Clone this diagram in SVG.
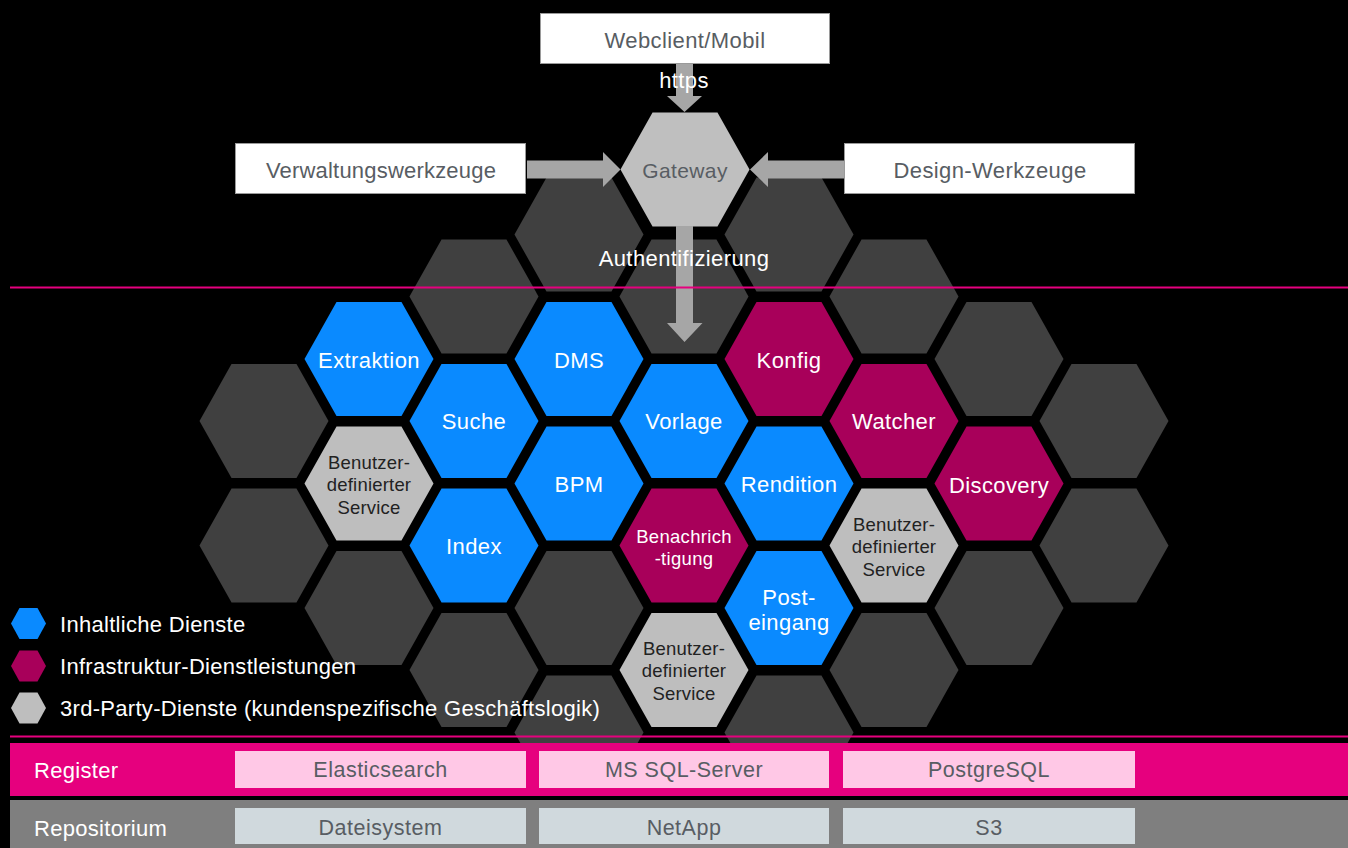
<svg xmlns="http://www.w3.org/2000/svg" width="1348" height="848" viewBox="0 0 1348 848">
<defs>
<polygon id="hx" points="-64.5,0 -32.5,-57 32.5,-57 64.5,0 32.5,57 -32.5,57"/>
<polygon id="lhx" points="-17.5,0 -9,-15.5 9,-15.5 17.5,0 9,15.5 -9,15.5"/>
</defs>
<style>
text{font-family:"Liberation Sans",Arial,sans-serif;dominant-baseline:central;text-anchor:middle}
.dk{fill:#404040}.bl{fill:#0A8AFF}.mg{fill:#A8005A}.gy{fill:#BEBEBE}
.w{fill:#FFFFFF;font-size:22px;letter-spacing:0.4px}.b3{fill:#222222;font-size:18.5px;letter-spacing:0.2px}
.box{fill:#FFFFFF;stroke:#9A9A9A;stroke-width:1}
.bt{fill:#585D63;font-size:22px;letter-spacing:0.4px}
.arr{fill:#A6A6A6}
.pl{stroke:#E6007E;stroke-width:2}
.lg{fill:#FFFFFF;font-size:22px;letter-spacing:0.3px;text-anchor:start}
.bx{fill:#585D63;font-size:21.5px;letter-spacing:0.5px}
.bl2{fill:#FFFFFF;font-size:22px;letter-spacing:0.3px;text-anchor:start}
</style>
<rect width="1348" height="848" fill="#000000"/>
<g id="background-hexes">
<use href="#hx" class="dk" x="264" y="421"/>
<use href="#hx" class="dk" x="264" y="545.5"/>
<use href="#hx" class="dk" x="369" y="608"/>
<use href="#hx" class="dk" x="474" y="296.5"/>
<use href="#hx" class="dk" x="474" y="670"/>
<use href="#hx" class="dk" x="579" y="234.5"/>
<use href="#hx" class="dk" x="579" y="608"/>
<use href="#hx" class="dk" x="579" y="732.5"/>
<use href="#hx" class="dk" x="684" y="296.5"/>
<use href="#hx" class="dk" x="789" y="234.5"/>
<use href="#hx" class="dk" x="789" y="732.5"/>
<use href="#hx" class="dk" x="894" y="296.5"/>
<use href="#hx" class="dk" x="894" y="670"/>
<use href="#hx" class="dk" x="999" y="359"/>
<use href="#hx" class="dk" x="999" y="608"/>
<use href="#hx" class="dk" x="1104" y="421"/>
<use href="#hx" class="dk" x="1104" y="545.5"/>
</g>
<g id="extraktion"><use href="#hx" class="bl" x="369" y="359"/><text class="w" x="369" y="360">Extraktion</text></g>
<g id="benutzer1"><use href="#hx" class="gy" x="369" y="483.5"/><text class="b3" x="369" y="462">Benutzer-</text><text class="b3" x="369" y="484.5">definierter</text><text class="b3" x="369" y="507">Service</text></g>
<g id="suche"><use href="#hx" class="bl" x="474" y="421"/><text class="w" x="474" y="421">Suche</text></g>
<g id="index"><use href="#hx" class="bl" x="474" y="545.5"/><text class="w" x="474" y="546">Index</text></g>
<g id="dms"><use href="#hx" class="bl" x="579" y="359"/><text class="w" x="579" y="360">DMS</text></g>
<g id="bpm"><use href="#hx" class="bl" x="579" y="483.5"/><text class="w" x="579" y="484">BPM</text></g>
<g id="vorlage"><use href="#hx" class="bl" x="684" y="421"/><text class="w" x="684" y="421">Vorlage</text></g>
<g id="benachrichtigung"><use href="#hx" class="mg" x="684" y="545.5"/><text class="w" style="font-size:18.5px;letter-spacing:0.3px" x="684" y="536">Benachrich</text><text class="w" style="font-size:18.5px;letter-spacing:0.3px" x="684" y="558">-tigung</text></g>
<g id="benutzer3"><use href="#hx" class="gy" x="684" y="670"/><text class="b3" x="684" y="648">Benutzer-</text><text class="b3" x="684" y="670.5">definierter</text><text class="b3" x="684" y="693">Service</text></g>
<g id="konfig"><use href="#hx" class="mg" x="789" y="359"/><text class="w" x="789" y="360">Konfig</text></g>
<g id="rendition"><use href="#hx" class="bl" x="789" y="483.5"/><text class="w" x="789" y="484">Rendition</text></g>
<g id="posteingang"><use href="#hx" class="bl" x="789" y="608"/><text class="w" x="789" y="597">Post-</text><text class="w" x="789" y="622">eingang</text></g>
<g id="watcher"><use href="#hx" class="mg" x="894" y="421"/><text class="w" x="894" y="421">Watcher</text></g>
<g id="benutzer2"><use href="#hx" class="gy" x="894" y="545.5"/><text class="b3" x="894" y="524">Benutzer-</text><text class="b3" x="894" y="546.5">definierter</text><text class="b3" x="894" y="569">Service</text></g>
<g id="discovery"><use href="#hx" class="mg" x="999" y="483.5"/><text class="w" x="999" y="485">Discovery</text></g>
<g id="gateway"><use href="#hx" fill="#BFBFBF" x="685" y="169.5"/><text class="bt" style="font-size:21px" x="685" y="170">Gateway</text></g>
<g id="webclient"><rect class="box" x="540.5" y="13.5" width="289" height="50"/><text class="bt" x="685" y="40">Webclient/Mobil</text></g>
<g id="verwaltung"><rect class="box" x="235.5" y="143.5" width="290" height="50"/><text class="bt" style="letter-spacing:0.2px" x="381" y="170">Verwaltungswerkzeuge</text></g>
<g id="design"><rect class="box" x="844.5" y="143.5" width="290" height="50"/><text class="bt" x="990" y="170">Design-Werkzeuge</text></g>
<g id="connectors">
<polygon class="arr" points="676,64 693,64 693,96 702,96 684.5,112 667,96 676,96"/>
<polygon class="arr" points="527,160.5 603,160.5 603,152 620.5,169.5 603,187 603,178.5 527,178.5"/>
<polygon class="arr" points="844,160.5 768,160.5 768,152 750,169.5 768,187 768,178.5 844,178.5"/>
<polygon class="arr" points="676,226 693,226 693,323 702.5,323 684.5,342 667,323 676,323"/>
<text class="w" x="684" y="80">https</text>
<text class="w" x="684" y="258">Authentifizierung</text>
</g>
<line class="pl" x1="10" y1="287.5" x2="1348" y2="287.5"/>
<g id="legend">
<use href="#lhx" class="bl" x="28.5" y="623.5"/><text class="lg" x="60" y="624">Inhaltliche Dienste</text>
<use href="#lhx" class="mg" x="28.5" y="666"/><text class="lg" x="60" y="666">Infrastruktur-Dienstleistungen</text>
<use href="#lhx" class="gy" x="28.5" y="708"/><text class="lg" x="60" y="708">3rd-Party-Dienste (kundenspezifische Geschäftslogik)</text>
</g>
<line class="pl" x1="10" y1="736.5" x2="1348" y2="736.5"/>
<g id="register">
<rect x="10" y="743" width="1338" height="53" fill="#E6007E"/>
<text class="bl2" x="34" y="770">Register</text>
<rect x="235" y="751" width="291" height="37" fill="#FFC8E6"/><text class="bx" x="380.5" y="770">Elasticsearch</text>
<rect x="539" y="751" width="290" height="37" fill="#FFC8E6"/><text class="bx" x="684" y="770">MS SQL-Server</text>
<rect x="843" y="751" width="292" height="37" fill="#FFC8E6"/><text class="bx" x="989" y="770">PostgreSQL</text>
</g>
<g id="repositorium">
<rect x="10" y="800" width="1338" height="48" fill="#7F7F7F"/>
<text class="bl2" x="34" y="828">Repositorium</text>
<rect x="235" y="808" width="291" height="36" fill="#D0D9DD"/><text class="bx" x="380.5" y="828">Dateisystem</text>
<rect x="539" y="808" width="290" height="36" fill="#D0D9DD"/><text class="bx" x="684" y="828">NetApp</text>
<rect x="843" y="808" width="292" height="36" fill="#D0D9DD"/><text class="bx" x="989" y="828">S3</text>
</g>
</svg>
